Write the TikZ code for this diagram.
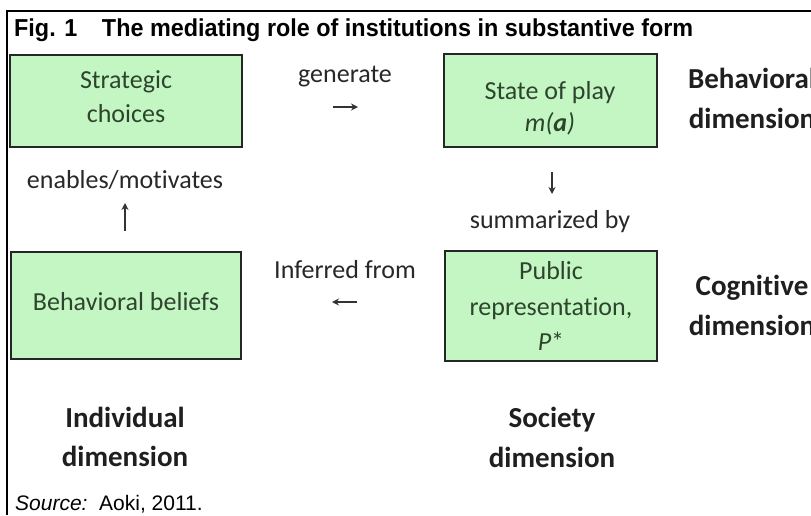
\documentclass[tikz,border=0pt]{standalone}
\usepackage{graphicx}
\usepackage{fontspec}
\setmainfont[Ligatures=NoCommon]{Carlito}
\newfontfamily\arialf{Liberation Sans}
\usetikzlibrary{arrows.meta}
\definecolor{boxfill}{RGB}{196,246,196}
\definecolor{boxtext}{RGB}{45,68,45}
\definecolor{lbl}{RGB}{40,40,40}
\begin{document}
\begin{tikzpicture}[x=1pt,y=-1pt,
  box/.style={draw=black!85, line width=1.6pt, fill=boxfill, inner sep=0pt},
  btxt/.style={anchor=base, text=boxtext, font=\fontsize{26}{30}\selectfont, inner sep=0pt},
  ltxt/.style={anchor=base, text=lbl, font=\fontsize{26}{30}\selectfont, inner sep=0pt},
  dtxt/.style={anchor=base, text=black!88, font=\bfseries\fontsize{29}{34}\selectfont, inner sep=0pt},
  sarrow/.style={-{Stealth[length=7pt,width=7pt]}, line width=1.8pt, draw=black!80}]
\useasboundingbox[fill=white] (0,0) rectangle (811,515);
% frame
\draw[line width=2pt] (7,515) -- (7,11) -- (811,11);
% title
\node[anchor=base west, inner sep=0pt, font=\arialf\bfseries\fontsize{24.5}{28}\selectfont] (title) at (14,36.5)
  {\resizebox{679pt}{\height}{Fig. 1\hspace{1.05em}The mediating role of institutions in substantive form}};
% boxes
\node[box, minimum width=232pt, minimum height=92pt] (sc) at (126,101) {};
\node[box, minimum width=213pt, minimum height=93pt] (sp) at (550.5,100.5) {};
\node[box, minimum width=230pt, minimum height=107pt] (bb) at (126,305.5) {};
\node[box, minimum width=212pt, minimum height=110pt] (pr) at (551,306) {};
% box texts
\node[btxt] (sc1) at (126,88) {Strategic};
\node[btxt] (sc2) at (126,122) {choices};
\node[btxt] (sp1) at (550,99) {State of play};
\node[btxt] (sp2) at (550,131) {\textit{m(\textbf{a})}};
\node[btxt] (bb1) at (126,310) {Behavioral beliefs};
\node[btxt] (pr1) at (551,279) {Public};
\node[btxt] (pr2) at (551,315) {representation,};
\node[btxt] (pr3) at (551,350) {\textit{P}*};
% connector labels
\node[ltxt] (gen) at (345,82) {generate};
\node[ltxt] (inf) at (345,278) {Inferred from};
\node[ltxt] (enm) at (125,188) {enables/motivates};
\node[ltxt] (sum) at (550,228) {summarized by};
% small arrows
\coordinate (ga) at (333,107); \coordinate (gb) at (358,107);
\draw[sarrow] (ga) -- (gb);
\coordinate (ia) at (357,302); \coordinate (ib) at (332,302);
\draw[sarrow] (ia) -- (ib);
\coordinate (ea) at (125,231); \coordinate (eb) at (125,203);
\draw[sarrow] (ea) -- (eb);
\coordinate (sa) at (552,172); \coordinate (sb) at (552,194);
\draw[sarrow] (sa) -- (sb);
% dimension labels
\node[dtxt] (bd1) at (752,88) {Behavioral};
\node[dtxt] (bd2) at (752,128) {dimension};
\node[dtxt] (cd1) at (752,295) {Cognitive};
\node[dtxt] (cd2) at (752,335) {dimension};
\node[dtxt] (id1) at (125,427) {Individual};
\node[dtxt] (id2) at (125,466) {dimension};
\node[dtxt] (sd1) at (552,427) {Society};
\node[dtxt] (sd2) at (552,467) {dimension};
% source
\node[anchor=base west, inner sep=0pt, font=\arialf\fontsize{21}{24}\selectfont] (src) at (15,510)
  {\textit{Source:}\ \ Aoki, 2011.};
\end{tikzpicture}
\end{document}
